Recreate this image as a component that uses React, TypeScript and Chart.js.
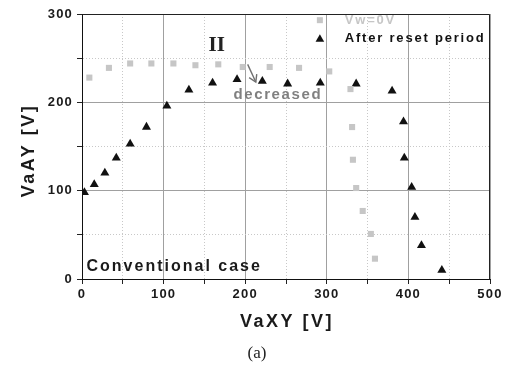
import React, { useEffect, useRef } from 'react';
import { Chart, registerables } from 'chart.js';
Chart.register(...registerables);

// Vw = 0V (gray squares)
const vwX = [9, 33, 59, 85, 112, 139, 167, 197, 230, 266, 303, 329, 331, 332, 336, 344, 354, 359];
const vwY = [228, 239, 244, 244, 244, 242, 243, 240, 240, 239, 235, 215, 172, 135, 103, 77, 51, 23];
// After reset period (black triangles)
const resetX = [3, 15, 28, 42, 59, 79, 104, 131, 160, 190, 221, 252, 292, 336, 380, 394, 395, 404, 408, 416, 441];
const resetY = [98, 107, 120, 137, 153, 172, 196, 214, 222, 226, 224, 221, 222, 221, 213, 178, 137, 104, 70, 38, 10];

const seriesNames = ['Vw=0V', 'After reset period'];
const xTitle = 'VaXY [V]';
const yTitle = 'VaAY [V]';
const caption = '(a)';
const FONT = '"Liberation Sans", Arial, sans-serif';
const GRAY = '#c6c6c6';
const BLACK = '#111111';

const toPts = (xs: number[], ys: number[]) => xs.map((x, i) => ({ x, y: ys[i] }));

const annotPlugin = {
  id: 'annot',
  beforeDraw(chart: any) {
    chart.ctx.save();
    chart.ctx.letterSpacing = '1.2px';
  },
  afterDraw(chart: any) {
    const ctx = chart.ctx as CanvasRenderingContext2D;
    ctx.restore();
    const { left, right, top, bottom } = chart.chartArea;
    const xs = chart.scales.x;
    const ys = chart.scales.y;
    const px = (v: number) => xs.getPixelForValue(v);
    const py = (v: number) => ys.getPixelForValue(v);
    ctx.save();
    // frame top & right
    ctx.strokeStyle = '#222';
    ctx.lineWidth = 1;
    ctx.beginPath();
    ctx.moveTo(Math.round(left) + 0.5, Math.round(top) + 0.5);
    ctx.lineTo(Math.round(right) - 0.5, Math.round(top) + 0.5);
    ctx.lineTo(Math.round(right) - 0.5, Math.round(bottom) + 0.5);
    ctx.stroke();

    // "II"
    (ctx as any).letterSpacing = '0px';
    ctx.fillStyle = '#222';
    ctx.font = 'bold 21px "Liberation Serif", "Times New Roman", serif';
    ctx.textAlign = 'center';
    ctx.textBaseline = 'middle';
    ctx.fillText('II', px(165), py(264));

    // arrow
    const x1 = px(203), y1 = py(243), x2 = px(213), y2 = py(223);
    ctx.strokeStyle = '#707070';
    ctx.lineWidth = 1.4;
    ctx.beginPath();
    ctx.moveTo(x1, y1);
    ctx.lineTo(x2, y2);
    ctx.stroke();
    const ang = Math.atan2(y2 - y1, x2 - x1);
    const hl = 8;
    ctx.beginPath();
    ctx.moveTo(x2 + hl * Math.cos(ang + Math.PI - 0.55), y2 + hl * Math.sin(ang + Math.PI - 0.55));
    ctx.lineTo(x2, y2);
    ctx.lineTo(x2 + hl * Math.cos(ang + Math.PI + 0.55), y2 + hl * Math.sin(ang + Math.PI + 0.55));
    ctx.stroke();

    // "decreased"
    (ctx as any).letterSpacing = '1.6px';
    ctx.fillStyle = '#808080';
    ctx.font = `bold 15px ${FONT}`;
    ctx.fillText('decreased', px(240), py(208));

    // "Conventional case"
    (ctx as any).letterSpacing = '2px';
    ctx.fillStyle = '#1a1a1a';
    ctx.font = `bold 16px ${FONT}`;
    ctx.textAlign = 'left';
    ctx.fillText('Conventional case', px(5.5), py(14));

    // legend
    (ctx as any).letterSpacing = '1.8px';
    ctx.font = `bold 13px ${FONT}`;
    const lx = px(291.5);
    const ly1 = py(293), ly2 = py(272);
    ctx.fillStyle = GRAY;
    ctx.fillRect(lx - 3, ly1 - 3, 6, 6);
    ctx.fillText(seriesNames[0], px(322), ly1);
    ctx.fillStyle = BLACK;
    ctx.beginPath();
    ctx.moveTo(lx, ly2 - 4.5);
    ctx.lineTo(lx + 4.3, ly2 + 3);
    ctx.lineTo(lx - 4.3, ly2 + 3);
    ctx.closePath();
    ctx.fill();
    ctx.fillText(seriesNames[1], px(322), ly2);

    // axis titles
    (ctx as any).letterSpacing = '2.5px';
    ctx.fillStyle = '#1a1a1a';
    ctx.font = `bold 18px ${FONT}`;
    ctx.textAlign = 'center';
    ctx.fillText(xTitle, (left + right) / 2 + 1, 322);
    ctx.save();
    ctx.translate(29, (top + bottom) / 2 + 4);
    ctx.rotate(-Math.PI / 2);
    ctx.fillText(yTitle, 0, 0);
    ctx.restore();

    // caption
    (ctx as any).letterSpacing = '0px';
    ctx.font = '17px "Liberation Serif", "Times New Roman", serif';
    ctx.fillStyle = '#222';
    ctx.fillText(caption, 257, 354);
    ctx.restore();
  },
};

const gridColor = (c: any) => (c.tick && c.tick.value % 100 === 0 ? '#a0a0a0' : '#c8c8c8');
const gridDash = (c: any) => (c.tick && c.tick.value % 100 !== 0 ? [1, 2] : []);
const tickCb = (v: any) => (Number(v) % 100 === 0 ? String(v) : '');

export default function App() {
  const ref = useRef<HTMLCanvasElement>(null);
  useEffect(() => {
    if (!ref.current) return;
    const chart = new Chart(ref.current, {
      type: 'scatter',
      data: {
        datasets: [
          {
            label: seriesNames[0],
            data: toPts(vwX, vwY),
            pointStyle: 'rect',
            pointRadius: 4.3,
            backgroundColor: GRAY,
            borderWidth: 0,
          },
          {
            label: seriesNames[1],
            data: toPts(resetX, resetY),
            pointStyle: 'triangle',
            pointRadius: 5.2,
            backgroundColor: BLACK,
            borderWidth: 0,
          },
        ],
      },
      options: {
        responsive: false,
        animation: false,
        layout: { padding: { left: 0, right: 19, top: 14, bottom: 0 } },
        plugins: { legend: { display: false }, tooltip: { enabled: false } },
        scales: {
          x: {
            type: 'linear',
            min: 0,
            max: 500,
            afterFit: (s: any) => { s.height = 86; },
            ticks: { stepSize: 50, callback: tickCb, color: '#1a1a1a', padding: 3, maxRotation: 0, autoSkip: false, font: { family: FONT, size: 13, weight: 'bold' } },
            grid: { color: gridColor, tickColor: '#222', tickLength: 5, drawTicks: true },
            border: { color: '#111', width: 1, dash: gridDash },
          },
          y: {
            type: 'linear',
            min: 0,
            max: 300,
            afterFit: (s: any) => { s.width = 82; },
            ticks: { stepSize: 50, callback: tickCb, color: '#1a1a1a', padding: 4, autoSkip: false, font: { family: FONT, size: 13, weight: 'bold' } },
            grid: { color: gridColor, tickColor: '#222', tickLength: 5, drawTicks: true },
            border: { color: '#111', width: 1, dash: gridDash },
          },
        },
      },
      plugins: [annotPlugin],
    } as any);
    return () => chart.destroy();
  }, []);
  return (
    <div style={{ position: 'fixed', left: 0, top: 0, width: 509, height: 365, background: '#fff' }}>
      <canvas ref={ref} width={509} height={365} style={{ display: 'block' }} />
    </div>
  );
}
